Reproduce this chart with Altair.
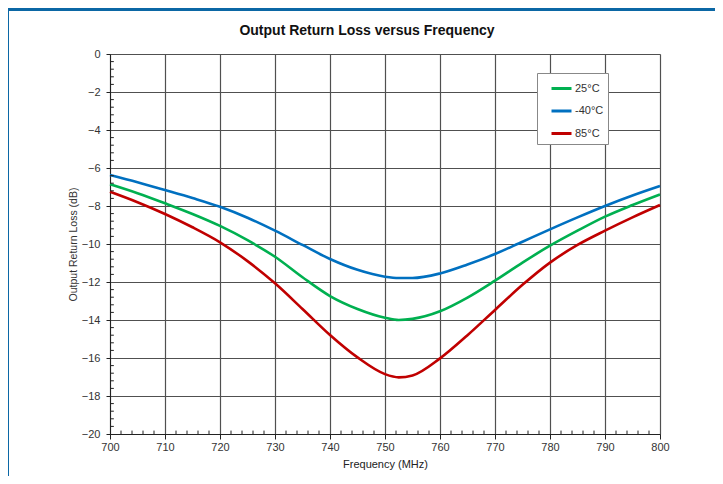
import altair as alt
import pandas as pd

freq = [700, 705, 710, 715, 720, 725, 730, 735, 740, 745, 750, 752.5, 755, 760, 765, 770, 775, 780, 785, 790, 795, 800]
t25 = [-6.86, -7.33, -7.86, -8.42, -9.05, -9.80, -10.67, -11.75, -12.74, -13.42, -13.88, -14.00, -13.94, -13.54, -12.82, -11.93, -10.98, -10.09, -9.30, -8.56, -7.95, -7.39]
tm40 = [-6.37, -6.75, -7.16, -7.58, -8.04, -8.62, -9.30, -10.05, -10.79, -11.36, -11.72, -11.79, -11.79, -11.55, -11.08, -10.53, -9.88, -9.23, -8.60, -8.00, -7.45, -6.95]
t85 = [-7.25, -7.80, -8.42, -9.12, -9.91, -10.90, -12.07, -13.42, -14.79, -15.97, -16.85, -17.02, -16.92, -16.02, -14.80, -13.47, -12.15, -10.98, -10.05, -9.30, -8.60, -7.95]

series_names = ["25°C", "-40°C", "85°C"]
series_colors = ["#00b050", "#0070c0", "#c00000"]

x_major = [700, 710, 720, 730, 740, 750, 760, 770, 780, 790, 800]
y_major = [-20, -18, -16, -14, -12, -10, -8, -6, -4, -2, 0]
x_minor = [v for v in range(702, 800, 2) if v % 10 != 0]
y_minor = [round(-20 + 0.4 * i, 1) for i in range(1, 50) if i % 5 != 0]

chart_title = "Output Return Loss versus Frequency"

rows = []
for name, vals in zip(series_names, [t25, tm40, t85]):
    for f, v in zip(freq, vals):
        rows.append({"freq": f, "loss": v, "series": name})
df = pd.DataFrame(rows)

xscale = alt.Scale(domain=[700, 800], nice=False, zero=False)
yscale = alt.Scale(domain=[-20, 0], nice=False, zero=False)

x_axis = alt.Axis(values=x_major, title="Frequency (MHz)", grid=True,
                  gridColor="#505050", gridWidth=1.2, tickSize=5, tickColor="#222",
                  domainColor="#222", labelFont="Liberation Sans", labelFontSize=11,
                  labelColor="#333", labelPadding=2, labelFlush=False,
                  labelOverlap=False, titleFont="Liberation Sans",
                  titleFontSize=11, titleFontWeight="normal", titleColor="#222",
                  titlePadding=6)
y_axis = alt.Axis(values=y_major, title="Output Return Loss (dB)", grid=True,
                  gridColor="#505050", gridWidth=1.2, tickSize=4, tickColor="#222",
                  domainColor="#222", labelFont="Liberation Sans", labelFontSize=11,
                  labelColor="#333", labelPadding=6, labelFlush=False,
                  labelOverlap=False, titleFont="Liberation Sans",
                  titleFontSize=10.5, titleFontWeight="normal", titleColor="#333",
                  titleX=-37, titleY=190, titleAngle=270, titleBaseline="middle",
                  titleAlign="center")

lines = alt.Chart(df).mark_line(strokeWidth=2.6, interpolate="monotone").encode(
    x=alt.X("freq:Q", scale=xscale, axis=x_axis),
    y=alt.Y("loss:Q", scale=yscale, axis=y_axis),
    color=alt.Color("series:N", sort=series_names,
                    scale=alt.Scale(domain=series_names, range=series_colors),
                    legend=alt.Legend(title=None, orient="none", legendX=427, legendY=19,
                                      symbolType="stroke", symbolSize=400, symbolStrokeWidth=3,
                                      symbolOffset=9,
                                      labelFont="Liberation Sans", labelFontSize=11,
                                      labelColor="#333", labelOffset=2, rowPadding=4.5,
                                      padding=4, strokeColor="#888", fillColor="white")),
)

xminor_df = pd.DataFrame({"x": x_minor})
yminor_df = pd.DataFrame({"y": y_minor})

xminor = alt.Chart(xminor_df).mark_rule(color="#222", strokeWidth=1).encode(
    x=alt.X("x:Q", scale=xscale, axis=x_axis),
    y=alt.Y(datum=-20, scale=yscale, axis=y_axis),
    y2=alt.datum(-19.82),
)
yminor = alt.Chart(yminor_df).mark_rule(color="#222", strokeWidth=1).encode(
    y=alt.Y("y:Q", scale=yscale, axis=y_axis),
    x=alt.X(datum=700, scale=xscale, axis=x_axis),
    x2=alt.datum(700.7),
)

one = pd.DataFrame({"t": [chart_title]})
title_mark = alt.Chart(one).mark_text(font="Liberation Sans", fontSize=14, fontWeight="bold",
                                      color="#111", align="center", baseline="alphabetic").encode(
    text="t:N", x=alt.value(257), y=alt.value(-19)
)

frame_top = alt.Chart(one).mark_rule(color="#0b67a5", strokeWidth=3).encode(
    x=alt.value(-104), x2=alt.value(620), y=alt.value(-44.5)
)
frame_left = alt.Chart(one).mark_rule(color="#0b67a5", strokeWidth=3).encode(
    x=alt.value(-102.5), y=alt.value(-46), y2=alt.value(440)
)

chart = alt.layer(lines, xminor, yminor, title_mark, frame_top, frame_left).properties(
    width=550,
    height=380,
    padding={"left": 102, "top": 46, "right": 55, "bottom": 42},
    autosize=alt.AutoSizeParams(type="none"),
).configure_view(stroke="#888", strokeWidth=1.5).configure(background="white")

chart.save("out.html", embed_options={"renderer": "svg", "actions": False})
